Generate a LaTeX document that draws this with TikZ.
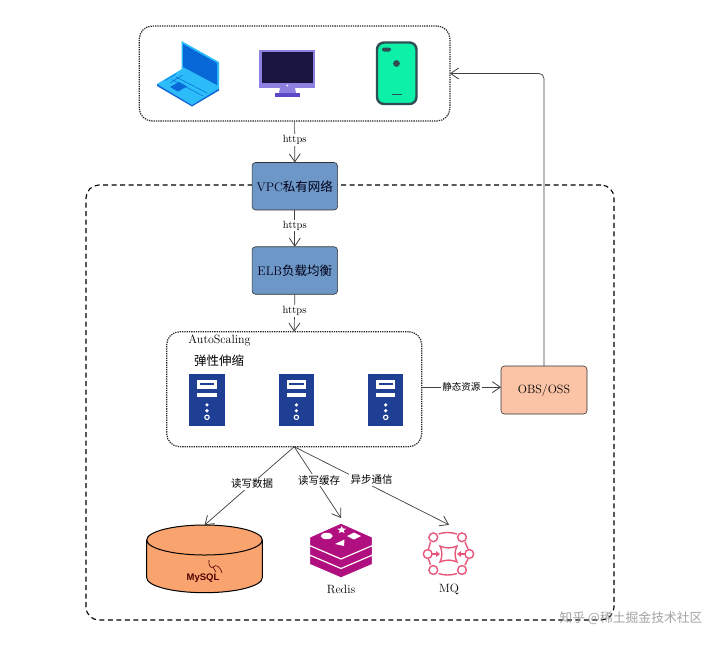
\documentclass[tikz,border=0pt]{standalone}
\usepackage{fontspec}
\usetikzlibrary{arrows.meta}
\newfontfamily\cjk{Noto Sans CJK SC}
\newfontfamily\hv{Liberation Sans}
\definecolor{boxblue}{HTML}{6D97C6}
\definecolor{obsfill}{HTML}{FBC4A6}
\definecolor{dbfill}{HTML}{F9A46F}
\definecolor{srv}{HTML}{1F3F95}
\definecolor{redis}{HTML}{B0107F}
\definecolor{mqc}{HTML}{E8557A}
\definecolor{lap}{HTML}{0868D8}
\definecolor{lapl}{HTML}{2CBCFA}
\definecolor{phonefill}{HTML}{0CF0A8}
\definecolor{phoneedge}{HTML}{2F4F55}
\definecolor{monedge}{HTML}{8C80E0}
\definecolor{monscreen}{HTML}{1A1440}
\definecolor{monfoot}{HTML}{5A48C8}
\tikzset{
  px/.style={x=1pt,y=-1pt},
  arr/.style={draw=black!75,line width=0.7pt,-{Straight Barb[length=8pt,width=11pt,line width=0.8pt]}},
  lab/.style={fill=white,inner sep=1.2pt,font=\fontsize{10.5}{12}\selectfont},
  group/.style={draw=black!85,line width=1.2pt,dash pattern=on 1.3pt off 1pt,rounded corners=13pt,fill=white,outer sep=0pt,inner sep=0pt},
  frame/.style={draw=black,line width=1.1pt,dash pattern=on 5pt off 3.5pt,rounded corners=13pt,outer sep=0pt,inner sep=0pt},
  svcbox/.style={draw=black!80,line width=0.6pt,fill=boxblue,rounded corners=3.5pt,minimum width=85.5pt,minimum height=47.5pt,outer sep=0pt,inner sep=0pt,font=\fontsize{12.5}{14}\selectfont,text=black!90!blue},
  anchorbox/.style={inner sep=0pt,outer sep=0pt}
}
\newcommand{\serverat}[1]{%
  \begin{scope}[shift={(#1,374.3)}]
    \fill[srv] (0,0) rectangle (35.4,51.4);
    \fill[white] (8,5.5) rectangle (27.4,14.5);
    \fill[srv] (10.5,8.2) rectangle (24.9,10.6);
    \fill[white] (8,19) rectangle (27.4,22.5);
    \fill[white] (17.7,30.6) circle[radius=1.8pt];
    \fill[white] (17.7,36.4) circle[radius=1.8pt];
    \draw[white,line width=1.1pt] (17.7,43) circle[radius=2.2pt];
  \end{scope}}
\begin{document}
\begin{tikzpicture}[px]
\useasboundingbox (0,0) rectangle (720,646);
\fill[white] (0,0) rectangle (720,646);
% big frame
\node[frame,minimum width=528pt,minimum height=435pt] (cloud) at (350,402.5) {};
% client group
\node[group,minimum width=310.7pt,minimum height=95pt] (client) at (294.6,73.5) {};
% laptop
\fill[lapl] (181.5,41) -- (219,62) -- (219,88) -- (216,88) -- (181.5,69) -- cycle;
\fill[lap] (183,44) -- (217,63) -- (217,85) -- (183,67) -- cycle;
\fill[lapl] (157,84) -- (182,69) -- (219,88.5) -- (192,105) -- cycle;
\fill[lap] (157,84) -- (192,105) -- (219,88.5) -- (219,90.5) -- (192,106.5) -- (157,86) -- cycle;
\draw[lap,line width=0.5pt] (165,80.5) -- (176,74) (170,83) -- (183,75);
\draw[lap,line width=0.5pt] (176,77) -- (207,93) (172,79.5) -- (203,96);
\fill[lap] (170,87) -- (179,82) -- (187,86.5) -- (178,91.5) -- cycle;
% monitor
\fill[monedge] (259.3,50) rectangle (315.3,87.7);
\fill[monscreen] (262,52.3) rectangle (313.3,83.3);
\fill[white] (287.3,85.5) circle[radius=1pt];
\fill[monedge] (280,87.7) -- (295,87.7) -- (296,93) -- (279,93) -- cycle;
\fill[monfoot] (275,93) rectangle (300,96.5);
% phone
\draw[line width=2.4pt,draw=phoneedge,fill=phonefill,rounded corners=7pt] (377,42.5) rectangle (416.5,104);
\fill[phoneedge,rounded corners=2pt] (382,47.5) rectangle (391,51.5);
\fill[phoneedge] (396.5,63.5) circle[radius=3.4pt];
\fill[phoneedge] (392,93.5) rectangle (402,95);
% server group
\node[group,minimum width=255pt,minimum height=115pt] (as) at (294.2,389.2) {};
\node[anchorbox,font=\fontsize{12}{14}\selectfont] (astitle) at (219.5,340) {AutoScaling};
\node[anchorbox,font=\fontsize{12.5}{14}\cjk] (ascn) at (219,361) {弹性伸缩};
\serverat{189.3}\serverat{278.7}\serverat{368}
% service boxes
\node[svcbox] (vpc) at (294.8,186.2) {VPC{\cjk 私有网络}};
\node[svcbox] (elb) at (294.8,270.5) {ELB{\cjk 负载均衡}};
\node[svcbox,fill=obsfill,minimum width=86pt,minimum height=48pt,text=black,font=\fontsize{12}{14}\selectfont] (obs) at (544,390) {OBS/OSS};
% MySQL
\node[anchorbox,minimum width=115.6pt,minimum height=67.7pt] (mysql) at (204.5,559) {};
\path[draw=black,line width=1pt,fill=dbfill] (146.7,540) -- (146.7,577.7) arc[start angle=180,end angle=360,x radius=57.8pt,y radius=15pt] -- (262.3,540) arc[start angle=0,end angle=180,x radius=57.8pt,y radius=15pt] -- cycle;
\draw[line width=1pt] (146.7,540) arc[start angle=180,end angle=360,x radius=57.8pt,y radius=15pt];
\node[anchorbox,font=\hv\bfseries\fontsize{9.5}{11}\selectfont,text=black!70!red] (mysqltext) at (203,577.7) {MySQL};
\draw[black!70!red,line width=0.6pt] (209,560) .. controls (208,565) and (211,569) .. (213,567) .. controls (216,564) and (220,566) .. (222,573) (213,567) -- (216,572);
% Redis
\foreach \y in {19,9.5,0}{
  \draw[white,line width=1.2pt,fill=redis] (341,523+\y) -- (372.5,537+\y) -- (372.5,545.5+\y) -- (341,559+\y) -- (309.5,545.5+\y) -- (309.5,537+\y) -- cycle;
}
\node[anchorbox,minimum width=63pt,minimum height=60pt] (redis) at (341,548) {};
\fill[white] (341.7,526) -- (342.8,528.4) -- (346,528.8) -- (343.6,530.6) -- (344.6,533) -- (341.7,531.8) -- (338.8,533) -- (339.8,530.6) -- (337.4,528.8) -- (340.6,528.4) -- cycle;
\fill[white] (326.7,536) ellipse[x radius=6pt,y radius=3.2pt];
\fill[white] (354,532.5) -- (361,536) -- (354,539.5) -- (347,536) -- cycle;
\fill[white] (335,544) -- (344.5,539.5) -- (344,546) -- cycle;
\node[anchorbox,font=\fontsize{12}{13}\selectfont] (redislabel) at (341,589) {Redis};
% MQ
\node[anchorbox,minimum width=52pt,minimum height=53pt] (mq) at (449,551.3) {};
\begin{scope}[draw=mqc,line width=1.4pt]
  \foreach \cx/\cy in {433.3/537.3,462/537.3,427.7/554,469.3/554,433.3/570,462/570}{\draw (\cx,\cy) circle[radius=4.4pt];}
  \draw (438.5,534) .. controls (444,532) and (451,532) .. (457,534);
  \draw (438.5,573.5) .. controls (444,575.5) and (451,575.5) .. (457,573.5);
  \draw (430.5,542) -- (428.5,549);
  \draw (465,542) -- (468,549);
  \draw (430.5,565) -- (428.5,559);
  \draw (465,565) -- (468,559);
  \draw (440,546) .. controls (445,548.5) and (452,548.5) .. (457,546) .. controls (454.5,551) and (454.5,557) .. (457,562) .. controls (452,559.5) and (445,559.5) .. (440,562) .. controls (442.5,557) and (442.5,551) .. (440,546) -- cycle;
  \draw (432,554) -- (438,554);
  \draw (459,554) -- (465,554);
\end{scope}
\fill[mqc] (436,551) -- (440,554) -- (436,557) -- cycle;
\fill[mqc] (461,551) -- (457,554) -- (461,557) -- cycle;
\node[anchorbox,font=\fontsize{12}{13}\selectfont] (mqlabel) at (449,589) {MQ};
% connectors
\draw[arr] (client.south) -- node[lab,pos=0.45] (l1) {https} (vpc.north);
\draw[arr] (vpc.south) -- node[lab,pos=0.42] (l2) {https} (elb.north);
\draw[arr] (elb.south) -- node[lab,pos=0.45] (l3) {https} (as.north);
\coordinate (asout) at ([yshift=2pt]as.east);
\draw[arr] (asout) -- node[lab,pos=0.5,font=\fontsize{9.5}{12}\cjk] (l4) {静态资源} (asout -| obs.west);
\draw[arr,rounded corners=5pt] (obs.north) |- (client.east);
\draw[arr] (as.south) -- node[lab,pos=0.47,font=\fontsize{10.5}{12}\cjk] (l5) {读写数据} (mysql.north);
\draw[arr] (as.south) -- node[lab,pos=0.47,xshift=3pt,font=\fontsize{10.5}{12}\cjk] (l6) {读写缓存} (redis.north);
\draw[arr] (as.south) -- node[lab,pos=0.5,yshift=6pt,font=\fontsize{10.5}{12}\cjk] (l7) {异步通信} (mq.north);
% watermark
\node[anchorbox,text=black!45,opacity=0.8,font=\fontsize{12.8}{14}\cjk] (wm) at (631,618) {知乎 @稀土掘金技术社区};
\end{tikzpicture}
\end{document}
